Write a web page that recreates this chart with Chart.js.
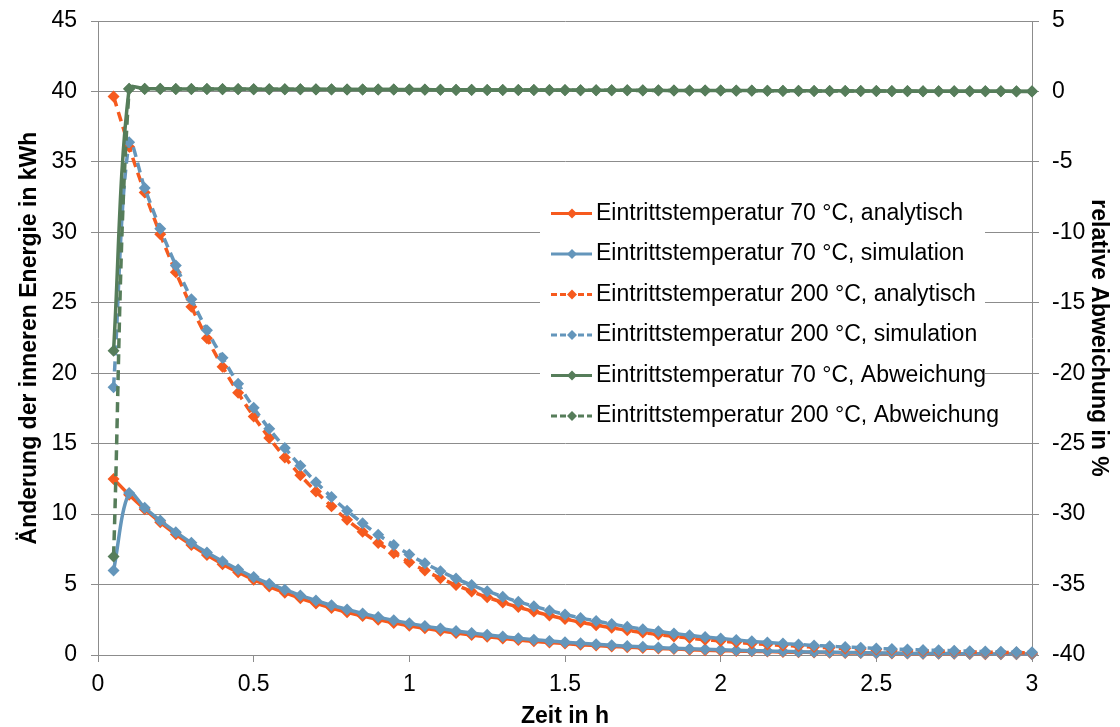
<!DOCTYPE html>
<html>
<head>
<meta charset="utf-8">
<script src="https://cdn.jsdelivr.net/npm/chart.js@4.4.1/dist/chart.umd.min.js"></script>
<style>
  html, body { margin: 0; padding: 0; background: #fff; }
  canvas { display: block; }
</style>
</head>
<body>
<canvas id="chart" width="1120" height="727"></canvas>
<script>
// Zeitpunkte in h
const zeitH = [
  0.05, 0.10, 0.15, 0.20, 0.25, 0.30, 0.35, 0.40, 0.45, 0.50,
  0.55, 0.60, 0.65, 0.70, 0.75, 0.80, 0.85, 0.90, 0.95, 1.00,
  1.05, 1.10, 1.15, 1.20, 1.25, 1.30, 1.35, 1.40, 1.45, 1.50,
  1.55, 1.60, 1.65, 1.70, 1.75, 1.80, 1.85, 1.90, 1.95, 2.00,
  2.05, 2.10, 2.15, 2.20, 2.25, 2.30, 2.35, 2.40, 2.45, 2.50,
  2.55, 2.60, 2.65, 2.70, 2.75, 2.80, 2.85, 2.90, 2.95, 3.00
];

// Änderung der inneren Energie in kWh
const analytisch70 = [
  12.50, 11.37, 10.35, 9.42, 8.57, 7.80, 7.09, 6.45, 5.87, 5.34,
  4.86, 4.42, 4.02, 3.66, 3.33, 3.03, 2.76, 2.51, 2.28, 2.07,
  1.89, 1.72, 1.56, 1.42, 1.29, 1.18, 1.07, 0.97, 0.89, 0.81,
  0.73, 0.67, 0.61, 0.55, 0.50, 0.46, 0.42, 0.38, 0.34, 0.31,
  0.28, 0.26, 0.24, 0.21, 0.20, 0.18, 0.16, 0.15, 0.14, 0.12,
  0.11, 0.10, 0.09, 0.09, 0.08, 0.07, 0.06, 0.06, 0.05, 0.05
];
const simulation70 = [
  6.00, 11.50, 10.45, 9.54, 8.72, 7.96, 7.27, 6.65, 6.07, 5.53,
  5.06, 4.64, 4.23, 3.87, 3.53, 3.23, 2.95, 2.69, 2.46, 2.25,
  2.05, 1.88, 1.71, 1.56, 1.43, 1.31, 1.19, 1.09, 1.00, 0.91,
  0.83, 0.76, 0.69, 0.63, 0.58, 0.53, 0.48, 0.44, 0.40, 0.37,
  0.34, 0.31, 0.28, 0.26, 0.23, 0.21, 0.20, 0.18, 0.16, 0.15,
  0.14, 0.12, 0.11, 0.10, 0.10, 0.09, 0.08, 0.07, 0.07, 0.06
];
const analytisch200 = [
  39.65, 36.07, 32.82, 29.86, 27.17, 24.72, 22.49, 20.46, 18.61, 16.93,
  15.41, 14.02, 12.75, 11.60, 10.56, 9.60, 8.74, 7.95, 7.23, 6.58,
  5.99, 5.45, 4.96, 4.51, 4.10, 3.73, 3.40, 3.09, 2.81, 2.56,
  2.33, 2.12, 1.93, 1.75, 1.59, 1.45, 1.32, 1.20, 1.09, 0.99,
  0.90, 0.82, 0.75, 0.68, 0.62, 0.57, 0.51, 0.47, 0.43, 0.39,
  0.35, 0.32, 0.29, 0.27, 0.24, 0.22, 0.20, 0.18, 0.17, 0.15
];
const simulation200 = [
  19.00, 36.40, 33.15, 30.25, 27.65, 25.25, 23.05, 21.10, 19.25, 17.55,
  16.05, 14.70, 13.43, 12.27, 11.21, 10.24, 9.35, 8.54, 7.80, 7.13,
  6.51, 5.95, 5.43, 4.96, 4.53, 4.14, 3.78, 3.46, 3.16, 2.88,
  2.63, 2.41, 2.20, 2.01, 1.83, 1.68, 1.53, 1.40, 1.28, 1.17,
  1.07, 0.97, 0.89, 0.81, 0.74, 0.68, 0.62, 0.57, 0.52, 0.47,
  0.43, 0.39, 0.36, 0.33, 0.30, 0.27, 0.25, 0.23, 0.21, 0.19
];

// relative Abweichung in %
const abweichung70 = [
  -18.40, 0.20, 0.19, 0.19, 0.18, 0.18, 0.17, 0.17, 0.17, 0.16,
  0.16, 0.16, 0.15, 0.15, 0.15, 0.14, 0.14, 0.14, 0.13, 0.13,
  0.13, 0.12, 0.12, 0.12, 0.11, 0.11, 0.11, 0.10, 0.10, 0.10,
  0.09, 0.09, 0.09, 0.08, 0.08, 0.08, 0.07, 0.07, 0.07, 0.06,
  0.06, 0.06, 0.05, 0.05, 0.05, 0.04, 0.04, 0.04, 0.03, 0.03,
  0.03, 0.03, 0.02, 0.02, 0.02, 0.02, 0.01, 0.01, 0.01, 0.01
];
const abweichung200 = [
  -33.00, 0.18, 0.18, 0.18, 0.17, 0.17, 0.17, 0.16, 0.16, 0.16,
  0.15, 0.15, 0.15, 0.14, 0.14, 0.14, 0.13, 0.13, 0.13, 0.12,
  0.12, 0.12, 0.11, 0.11, 0.11, 0.10, 0.10, 0.10, 0.09, 0.09,
  0.09, 0.08, 0.08, 0.08, 0.07, 0.07, 0.07, 0.06, 0.06, 0.06,
  0.05, 0.05, 0.05, 0.04, 0.04, 0.04, 0.03, 0.03, 0.03, 0.03,
  0.02, 0.02, 0.02, 0.02, 0.01, 0.01, 0.01, 0.01, 0.00, 0.00
];

const FONT = '"Liberation Sans", Arial, sans-serif';
const GRID = '#8c8c8c';
const ORANGE = 'rgb(246,90,30)';
const BLUE = 'rgb(100,150,187)';
const GREEN = 'rgb(86,125,90)';

function serie(values) {
  return zeitH.map((t, i) => ({ x: t, y: values[i] }));
}

function linie(label, values, color, dashed, axis, order) {
  return {
    label,
    data: serie(values),
    yAxisID: axis,
    order,
    borderColor: color,
    backgroundColor: color,
    borderWidth: 3.5,
    borderDash: dashed ? [10, 6] : [],
    tension: 0.35,
    pointStyle: 'rectRot',
    pointRadius: 6,
    pointBorderWidth: 0,
    pointBackgroundColor: color,
    clip: false
  };
}

// feste Achsenbreiten, ohne zusätzlichen Randabstand für Beschriftungen
function festeBreite(w) {
  return s => { s.width = w; s.paddingTop = 0; s.paddingBottom = 0; };
}

// Legende im Diagrammbereich, mit weißem Hintergrund
const innenLegende = {
  id: 'innenLegende',
  afterDraw(chart) {
    const ctx = chart.ctx;
    ctx.save();
    ctx.fillStyle = '#fff';
    ctx.fillRect(540, 192, 445, 245);
    chart.data.datasets.forEach((ds, i) => {
      const y = 213.5 + i * 40.5;
      ctx.strokeStyle = ds.borderColor;
      ctx.lineWidth = 3;
      ctx.setLineDash(ds.borderDash.length ? [6, 3] : []);
      ctx.beginPath();
      ctx.moveTo(551, y);
      ctx.lineTo(592, y);
      ctx.stroke();
      ctx.setLineDash([]);
      ctx.fillStyle = ds.borderColor;
      ctx.beginPath();
      ctx.moveTo(572, y - 5);
      ctx.lineTo(577, y);
      ctx.lineTo(572, y + 5);
      ctx.lineTo(567, y);
      ctx.closePath();
      ctx.fill();
      ctx.fillStyle = '#000';
      ctx.font = '23px ' + FONT;
      ctx.textBaseline = 'middle';
      ctx.textAlign = 'left';
      ctx.fillText(ds.label, 596, y);
    });
    ctx.restore();
  }
};

const tickFont = { family: FONT, size: 23 };
const titleFont = { family: FONT, size: 23, weight: 'bold' };

new Chart(document.getElementById('chart'), {
  type: 'line',
  data: {
    datasets: [
      linie('Eintrittstemperatur 70 °C, analytisch', analytisch70, ORANGE, false, 'y', 5),
      linie('Eintrittstemperatur 70 °C, simulation', simulation70, BLUE, false, 'y', 4),
      linie('Eintrittstemperatur 200 °C, analytisch', analytisch200, ORANGE, true, 'y', 3),
      linie('Eintrittstemperatur 200 °C, simulation', simulation200, BLUE, true, 'y', 2),
      linie('Eintrittstemperatur 70 °C, Abweichung', abweichung70, GREEN, false, 'y1', 1),
      linie('Eintrittstemperatur 200 °C, Abweichung', abweichung200, GREEN, true, 'y1', 0)
    ]
  },
  options: {
    responsive: false,
    animation: false,
    devicePixelRatio: 1,
    layout: { padding: { top: 21, left: 0, right: 0, bottom: 0 } },
    plugins: { legend: { display: false }, tooltip: { enabled: false } },
    scales: {
      x: {
        type: 'linear', position: 'bottom', min: 0, max: 3,
        ticks: { stepSize: 0.5, color: '#000', font: tickFont, padding: 9, maxRotation: 0, callback: v => String(v) },
        grid: { drawOnChartArea: false, tickLength: 7, color: GRID },
        border: { color: GRID },
        title: { display: true, text: 'Zeit in h', color: '#000', font: titleFont, padding: { top: 0, bottom: -3 } },
        afterFit(s) { s.height = 72; s.paddingLeft = 0; s.paddingRight = 0; }
      },
      y: {
        position: 'left', min: 0, max: 45,
        ticks: { stepSize: 5, color: '#000', font: tickFont, padding: 14 },
        grid: { color: GRID, tickLength: 7 },
        border: { color: GRID },
        title: { display: true, text: 'Änderung der inneren Energie in kWh', color: '#000', font: titleFont, padding: { top: 16, bottom: 0 } },
        afterFit: festeBreite(98)
      },
      y1: {
        position: 'right', min: -40, max: 5,
        ticks: { stepSize: 5, color: '#000', font: tickFont, padding: 13 },
        grid: { drawOnChartArea: false, tickLength: 7, color: GRID },
        border: { color: GRID },
        title: { display: true, text: 'relative Abweichung in %', color: '#000', font: titleFont, padding: { top: 8, bottom: 0 } },
        afterFit: festeBreite(88)
      }
    }
  },
  plugins: [innenLegende]
});
</script>
</body>
</html>
